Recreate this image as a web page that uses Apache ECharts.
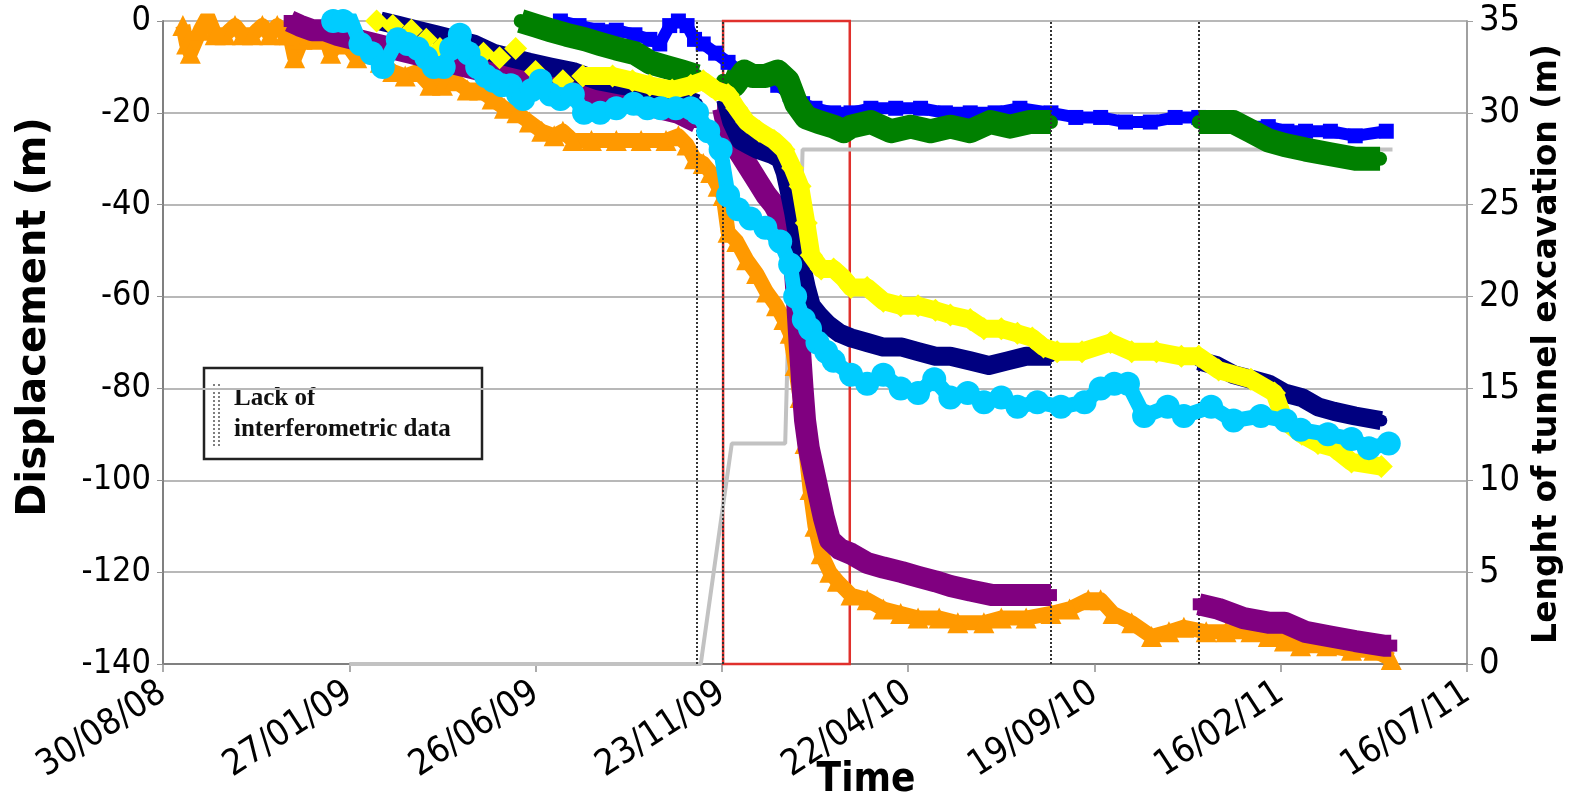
<!DOCTYPE html>
<html>
<head>
<meta charset="utf-8">
<script src="https://cdn.jsdelivr.net/npm/echarts@6/dist/echarts.min.js"></script>
<style>
  html, body { margin: 0; background: #fff; }
  #chart { width: 1583px; height: 803px; }
</style>
</head>
<body>
<div id="chart"></div>
<script>
// x values are days counted from the first tick, 30/08/08
const START = Date.UTC(2008, 7, 30)
const xMin = 0, xMax = 1050, xStep = 150

// null = gap in the record
const orange = [[16,-1],[19,-5],[22,-7],[30,-2],[36,1],[42,-3],[50,-3],[58,-1],[64,-3],[72,-3],[80,-1],[86,-3],[92,-1],[98,-3],[102,-3],[106,-8],[112,-4],[118,-3],[124,-4],[129,-2],[135,-7],[142,-4],[148,-5],[156,-8],[165,-7],[175,-9],[185,-11],[195,-12],[205,-11],[215,-14],[225,-14],[235,-13],[245,-15],[255,-15],[265,-17],[275,-19],[285,-20],[295,-22],[305,-24],[315,-25],[322,-24],[330,-26],[345,-26],[365,-26],[385,-26],[405,-26],[415,-25],[422,-27],[428,-30],[435,-31],[441,-33],[447,-36],[451,-38],[455,-46],[462,-48],[470,-52],[478,-55],[486,-59],[494,-62],[500,-65],[505,-68],[509,-75],[513,-82],[517,-92],[521,-102],[525,-110],[530,-116],[537,-120],[543,-122],[554,-125],[567,-126],[580,-128],[594,-129],[608,-130],[625,-130],[640,-131],[661,-131],[675,-130],[695,-130],[715,-129],[730,-128],[745,-126],[755,-126],[765,-129],[780,-131],[796,-134],[810,-133],[822,-132],[840,-133],[856,-133],[876,-133],[890,-134],[903,-135],[916,-136],[937,-136],[957,-137],[975,-137],[989,-139]]

const blue = [[320,0],[335,-1],[350,-2],[365,-2],[380,-3],[392,-4],[400,-5],[408,-1],[415,0],[422,-1],[428,-4],[435,-5],[445,-7],[455,-9],[465,-11],[475,-12],[485,-12],[495,-14],[505,-16],[515,-18],[525,-19],[540,-20],[554,-20],[570,-19],[590,-19],[610,-19],[630,-20],[650,-20],[670,-20],[690,-19],[715,-20],[735,-21],[755,-21],[775,-22],[795,-22],[815,-21],[834,-21],[850,-22],[870,-23],[890,-23],[905,-24],[920,-24],[940,-24],[960,-25],[985,-24]]

const green = [[288,0],[300,-1],[312,-2],[325,-3],[340,-4],[352,-5],[365,-6],[380,-7],[392,-9],[405,-10],[418,-11],[430,-12],null,
  [451,-13],[460,-14],[468,-11],[475,-12],[485,-12],[495,-11],[503,-13],[510,-18],[518,-21],[528,-22],[540,-23],[548,-24],[554,-23],[570,-22],[586,-24],[602,-23],[618,-24],[634,-23],[650,-24],[666,-22],[682,-23],[698,-22],[715,-22],null,
  [834,-22],[850,-22],[862,-22],[876,-24],[890,-26],[903,-27],[920,-28],[940,-29],[960,-30],[980,-30]]

const purple = [[102,0],[110,-1],[120,-2],[130,-2],[140,-3],[170,-5],[200,-7],[230,-9],[260,-11],[290,-12],[320,-14],[340,-16],[360,-17],[380,-18],[400,-19],[415,-20],[430,-22],null,
  [451,-19],[455,-24],[460,-27],[465,-29],[472,-32],[479,-35],[486,-38],[492,-40],[498,-43],[503,-45],[506,-48],[509,-55],[511,-63],[513,-72],[515,-80],[517,-87],[520,-93],[524,-98],[528,-103],[532,-108],[537,-113],[545,-115],[554,-116],[567,-118],[580,-119],[595,-120],[608,-121],[622,-122],[634,-123],[650,-124],[668,-125],[690,-125],[705,-125],[715,-125],null,
  [834,-127],[850,-128],[870,-130],[890,-131],[903,-131],[920,-133],[940,-134],[960,-135],[983,-136],[989,-136]]

const navy = [[175,0],[190,-1],[205,-2],[220,-3],[235,-4],[250,-5],[266,-7],[280,-8],[295,-9],[312,-10],[330,-11],[350,-13],[370,-14],[392,-15],[410,-16],[430,-18],null,
  [453,-17],[458,-22],[465,-26],[472,-27],[479,-28],[490,-29],[497,-30],[501,-33],[505,-38],[508,-42],[511,-47],[514,-53],[518,-58],[522,-62],[528,-64],[535,-66],[545,-68],[554,-69],[567,-70],[580,-71],[595,-71],[608,-72],[622,-73],[634,-73],[650,-74],[665,-75],[680,-74],[695,-73],[715,-73],null,
  [834,-74],[848,-75],[862,-77],[876,-78],[890,-79],[903,-81],[917,-82],[930,-84],[943,-85],[960,-86],[981,-87]]

const yellow = [[172,0],[185,-1],[200,-2],[212,-4],[223,-6],[240,-5],[258,-7],[271,-8],[284,-6],[300,-11],[322,-13],[338,-12],[362,-12],[378,-13],[392,-14],[410,-15],[425,-14],[435,-13],[445,-15],[455,-16],[462,-19],[470,-22],[480,-24],[492,-26],[500,-28],[507,-32],[513,-36],[518,-44],[522,-51],[530,-54],[540,-54],[548,-56],[554,-58],[567,-58],[580,-61],[594,-62],[608,-62],[622,-63],[634,-64],[650,-65],[661,-67],[675,-67],[688,-68],[700,-69],[709,-71],[720,-72],[740,-72],[763,-70],[780,-72],[800,-72],[820,-73],[834,-73],[850,-76],[876,-78],[895,-81],[903,-87],[917,-90],[930,-92],[943,-93],[957,-96],[981,-97]]

const cyan = [[137,0],[145,0],[150,1],[159,-5],[168,-7],[177,-10],[189,-4],[197,-5],[205,-6],[212,-8],[218,-10],[226,-10],[232,-6],[239,-3],[246,-7],[253,-10],[260,-12],[266,-13],[273,-14],[280,-14],[286,-16],[290,-17],[297,-15],[304,-13],[312,-16],[320,-17],[330,-16],[339,-20],[352,-20],[365,-19],[379,-18],[390,-19],[401,-19],[413,-19],[425,-19],[430,-20],[439,-24],[449,-28],[455,-38],[463,-41],[473,-43],[485,-45],[497,-48],[505,-53],[509,-60],[516,-65],[521,-67],[527,-70],[534,-72],[540,-74],[554,-77],[567,-79],[580,-77],[594,-80],[608,-81],[621,-78],[634,-82],[648,-81],[661,-83],[675,-82],[688,-84],[704,-83],[723,-84],[742,-83],[755,-80],[766,-79],[777,-79],[790,-86],[809,-84],[822,-86],[844,-84],[862,-87],[884,-86],[904,-87],[916,-89],[938,-90],[957,-91],[971,-93],[987,-92]]

// length of tunnel excavation (m), right axis
const tunnel = [[150,0],[433,0],[458,12],[501,12],[503,17],[511,17.5],[515,28],[990,28]]

const noDataDays = [430, 715, 834]
const redBox = [451, 553]

function fmtDate(v) {
  const d = new Date(START + v * 86400000)
  const p = n => String(n).padStart(2, '0')
  return p(d.getUTCDate()) + '/' + p(d.getUTCMonth() + 1) + '/' + p(d.getUTCFullYear() % 100)
}

function segments(points) {
  const out = [[]]
  points.forEach(p => { if (p === null) out.push([]); else out[out.length - 1].push(p) })
  return out
}

// points before looseUntil are drawn as loose markers, the rest as a dense band
function band(pts, color, symbol, size, width, z, looseUntil) {
  const list = []
  segments(pts).forEach(seg => {
    const loose = seg.filter(p => looseUntil && p[0] < looseUntil)
    const dense = seg.filter(p => !(looseUntil && p[0] < looseUntil))
    if (loose.length) list.push({
      type: 'scatter', data: loose, z: z, symbol: symbol, symbolSize: size, silent: true,
      itemStyle: { color: color, opacity: 1 }
    })
    if (dense.length) list.push({
      type: 'line', data: dense, z: z, symbol: symbol, symbolSize: size,
      showSymbol: true, showAllSymbol: true, silent: true,
      itemStyle: { color: color },
      lineStyle: { color: color, width: width, join: 'round' }
    })
  })
  return list
}

const chart = echarts.init(document.getElementById('chart'))
const tickFont = 'DejaVu Sans Condensed, DejaVu Sans'

const series = [
  {
    type: 'line', yAxisIndex: 1, data: tunnel, symbol: 'none', z: 1, silent: true,
    lineStyle: { color: '#c2c2c2', width: 4 }
  },
  ...band(orange, '#ff9900', 'triangle', 21, 15, 2),
  ...band(blue, '#0000ff', 'rect', 15, 12, 3),
  ...band(green, '#008000', 'circle', 14, 24, 4),
  ...band(purple, '#800080', 'rect', 12, 22, 5),
  ...band(navy, '#000080', 'circle', 12, 19, 6),
  ...band(yellow, '#ffff00', 'diamond', 23, 18, 7, 330),
  ...band(cyan, '#00ccff', 'circle', 24, 15, 8),
  {
    type: 'line', data: [], z: 10, silent: true,
    markLine: {
      symbol: 'none', silent: true, label: { show: false },
      lineStyle: { color: '#333', type: [2, 2], width: 2 },
      data: noDataDays.map(d => ({ xAxis: d }))
    },
    markArea: {
      silent: true,
      itemStyle: { color: 'rgba(0,0,0,0)', borderColor: '#e0302c', borderWidth: 2.5 },
      data: [[{ xAxis: redBox[0], yAxis: 0 }, { xAxis: redBox[1], yAxis: -140 }]]
    }
  },
  {
    type: 'line', data: [], z: 9, silent: true,
    markLine: {
      symbol: 'none', silent: true, label: { show: false },
      lineStyle: { color: '#333', type: [2, 2], width: 2 },
      data: [{ xAxis: redBox[0] }]
    }
  }
]

const option = {
  animation: false,
  backgroundColor: '#fff',
  grid: { left: 163, right: 116, top: 21, bottom: 139 },
  xAxis: {
    type: 'value', min: xMin, max: xMax, interval: xStep,
    axisLine: { show: true, onZero: false, lineStyle: { color: '#808080', width: 2 } },
    axisTick: { show: true, length: 8, lineStyle: { color: '#909090', width: 1.5 } },
    splitLine: { show: false },
    axisLabel: {
      rotate: 33, fontSize: 36, color: '#000', fontFamily: tickFont, margin: 26,
      formatter: fmtDate
    }
  },
  yAxis: [
    {
      type: 'value', min: -140, max: 0, interval: 20,
      axisLine: { show: true, lineStyle: { color: '#808080', width: 2 } },
      axisTick: { show: true, length: 6, lineStyle: { color: '#909090' } },
      splitLine: { lineStyle: { color: '#b8b8b8', width: 2 } },
      axisLabel: { fontSize: 34, color: '#000', fontFamily: tickFont, margin: 12 }
    },
    {
      type: 'value', min: 0, max: 35, interval: 5, position: 'right',
      axisLine: { show: true, lineStyle: { color: '#a0a0a0', width: 2 } },
      axisTick: { show: true, length: 6, lineStyle: { color: '#a0a0a0' } },
      splitLine: { show: false },
      axisLabel: { fontSize: 36, color: '#000', fontFamily: tickFont, margin: 12 }
    }
  ],
  graphic: [
    {
      type: 'text', x: 35, y: 317, rotation: Math.PI / 2,
      style: { text: 'Displacement (m)', font: 'bold 40px "DejaVu Sans"', fill: '#000', align: 'center', verticalAlign: 'middle' }
    },
    {
      type: 'text', x: 1547, y: 344, rotation: Math.PI / 2,
      style: { text: 'Lenght of tunnel excavation (m)', font: 'bold 33px "DejaVu Sans"', fill: '#000', align: 'center', verticalAlign: 'middle' }
    },
    {
      type: 'text', x: 866, y: 781,
      style: { text: 'Time', font: 'bold 40px "DejaVu Sans Condensed", "DejaVu Sans"', fill: '#000', align: 'center', verticalAlign: 'middle' }
    },
    {
      type: 'group', z: 100,
      children: [
        { type: 'rect', shape: { x: 204, y: 368, width: 278, height: 91 }, style: { fill: '#fff', stroke: '#222', lineWidth: 2.5 } },
        { type: 'line', shape: { x1: 214, y1: 384, x2: 214, y2: 446 }, style: { stroke: '#555', lineWidth: 1.5, lineDash: [2, 2] } },
        { type: 'line', shape: { x1: 219, y1: 384, x2: 219, y2: 446 }, style: { stroke: '#555', lineWidth: 1.5, lineDash: [2, 2] } },
        { type: 'text', x: 234, y: 399, style: { text: 'Lack of', font: 'bold 25px "Liberation Serif"', fill: '#111', verticalAlign: 'middle' } },
        { type: 'text', x: 234, y: 430, style: { text: 'interferometric data', font: 'bold 25px "Liberation Serif"', fill: '#111', verticalAlign: 'middle' } }
      ]
    }
  ],
  series: series
}

chart.setOption(option)
</script>
</body>
</html>
